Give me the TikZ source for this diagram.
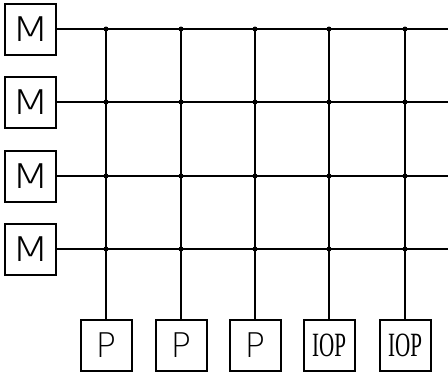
\documentclass[tikz,border=0pt]{standalone}
\usepackage{fontspec}
\setsansfont{DejaVu Sans}
\setmainfont{Liberation Serif}
\newfontfamily\thinfont{DejaVu Sans ExtraLight}
\begin{document}
\begin{tikzpicture}[x=1pt,y=-1pt,
  unit/.style={draw,line width=2pt,minimum width=51pt,minimum height=51pt,inner sep=0pt,font=\thinfont\fontsize{34}{34}\selectfont},
  ioptext/.style={draw,line width=2pt,minimum width=51pt,minimum height=51pt,inner sep=0pt,font=\fontsize{34}{34}\selectfont},
  wire/.style={line width=1.6pt},
  junction/.style={circle,fill,inner sep=0pt,minimum size=5pt}]
\useasboundingbox (0,0) rectangle (448,372);
% memory modules
\foreach \i/\y in {1/29,2/102,3/176,4/249}{
  \node[unit] (m\i) at (30.5,\y) {\scalebox{1.3}[1]{M}};
  \coordinate (r\i) at (448,\y);
}
% processors
\node[unit] (p1) at (106,345) {P};
\node[unit] (p2) at (181,345) {P};
\node[unit] (p3) at (255,345) {P};
\node[ioptext] (p4) at (329,345) {\scalebox{0.62}[1]{IOP}};
\node[ioptext] (p5) at (405,345) {\scalebox{0.62}[1]{IOP}};
% horizontal buses
\foreach \i in {1,...,4}{ \draw[wire] (m\i.east) -- (r\i); }
% vertical buses and junctions
\foreach \j in {1,...,5}{
  \draw[wire] (p\j.north) -- (p\j.north |- m1.east);
  \foreach \i in {1,...,4}{
    \node[junction] (j\j\i) at (p\j.north |- m\i.east) {};
  }
}
\end{tikzpicture}
\end{document}
